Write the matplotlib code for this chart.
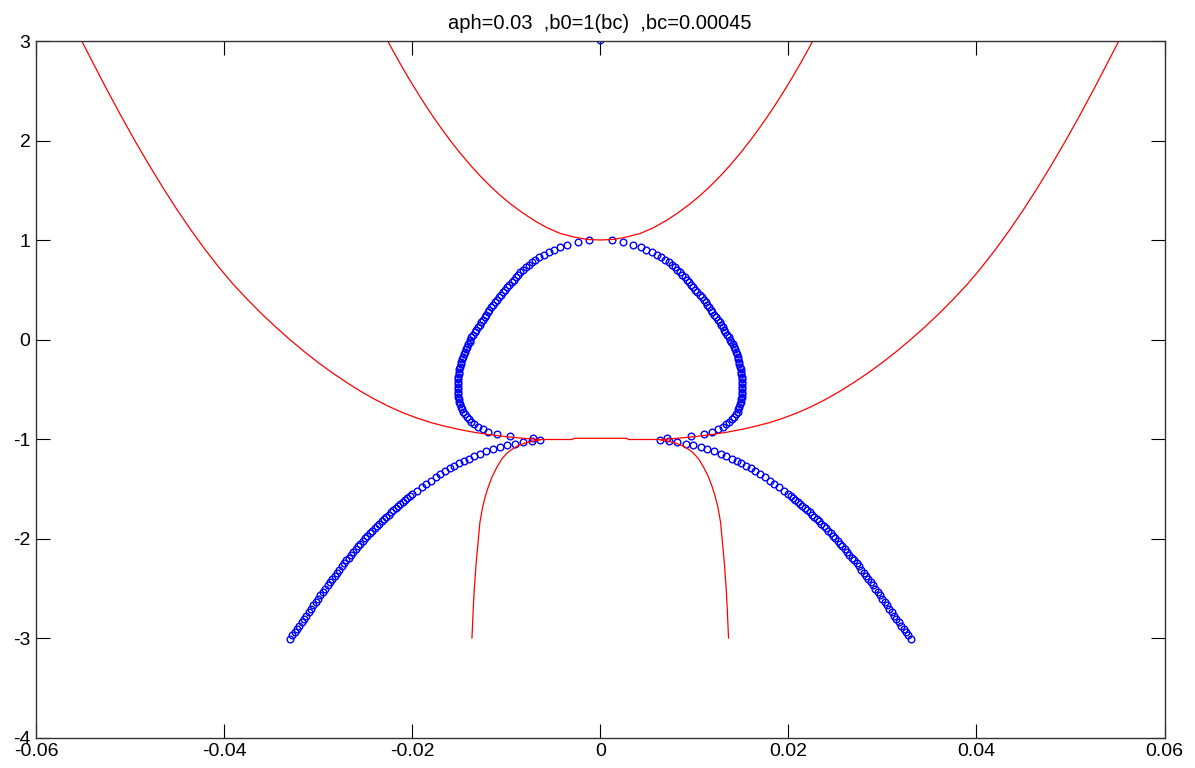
"""Branch plot: aph=0.03, b0=1(bc), bc=0.00045."""

import matplotlib
matplotlib.use("Agg")
import matplotlib.pyplot as plt

# red curves
wide_x = [-0.0553, -0.0540, -0.0525, -0.0510, -0.0495, -0.0480, -0.0465, -0.0450, -0.0435,
          -0.0420, -0.0405, -0.0390, -0.0375, -0.0360, -0.0345, -0.0330, -0.0315, -0.0300,
          -0.0285, -0.0270, -0.0255, -0.0240, -0.0225, -0.0210, -0.0195, -0.0180, -0.0165,
          -0.0150, -0.0135, -0.0120, -0.0105, -0.0090, -0.0075, -0.0064, -0.0030, -0.0028,
          0.0028, 0.0030, 0.0064, 0.0075, 0.0090, 0.0105, 0.0120, 0.0135, 0.0150,
          0.0165, 0.0180, 0.0195, 0.0210, 0.0225, 0.0240, 0.0255, 0.0270, 0.0285,
          0.0300, 0.0315, 0.0330, 0.0345, 0.0360, 0.0375, 0.0390, 0.0405, 0.0420,
          0.0435, 0.0450, 0.0465, 0.0480, 0.0495, 0.0510, 0.0525, 0.0540, 0.0553]
wide_y = [3.030, 2.792, 2.519, 2.255, 2.001, 1.758, 1.526, 1.305, 1.097,
          0.902, 0.720, 0.552, 0.401, 0.258, 0.125, -0.001, -0.120, -0.231,
          -0.334, -0.430, -0.519, -0.600, -0.672, -0.735, -0.789, -0.835, -0.872,
          -0.904, -0.931, -0.953, -0.971, -0.986, -0.998, -1.005, -1.005, -0.993,
          -0.993, -1.005, -1.005, -0.998, -0.986, -0.971, -0.953, -0.931, -0.904,
          -0.872, -0.835, -0.789, -0.735, -0.672, -0.600, -0.519, -0.430, -0.334,
          -0.231, -0.120, -0.001, 0.125, 0.258, 0.401, 0.552, 0.720, 0.902,
          1.097, 1.305, 1.526, 1.758, 2.001, 2.255, 2.519, 2.792, 3.030]

upper_x = [-0.0229, -0.0221, -0.02125, -0.0204, -0.01948, -0.0186, -0.01771, -0.0168,
           -0.01594, -0.0149, -0.01381, -0.0128, -0.01169, -0.0106, -0.00956, -0.0083,
           -0.00709, -0.0057, -0.00425, -0.0028, -0.00141, 0.0, 0.00141, 0.0028, 0.00425,
           0.0057, 0.00709, 0.0083, 0.00956, 0.0106, 0.01169, 0.0128, 0.01381, 0.0149,
           0.01594, 0.0168, 0.01771, 0.0186, 0.01948, 0.0204, 0.02125, 0.0221, 0.0229]
upper_y = [3.053, 2.913, 2.769, 2.631, 2.488, 2.357, 2.231, 2.109,
           1.999, 1.874, 1.752, 1.647, 1.541, 1.446, 1.364, 1.276,
           1.200, 1.125, 1.066, 1.030, 1.006, 1.000, 1.006, 1.030, 1.066,
           1.125, 1.200, 1.276, 1.364, 1.446, 1.541, 1.647, 1.752, 1.874,
           1.999, 2.109, 2.231, 2.357, 2.488, 2.631, 2.769, 2.913, 3.053]

inner_left_x = [-0.01364, -0.0135, -0.0134, -0.0132, -0.0130, -0.0128, -0.0125, -0.0122,
                -0.0119, -0.0115, -0.0110, -0.0105, -0.0100, -0.0095, -0.0088, -0.0080,
                -0.0072, -0.0064]
inner_left_y = [-3.000, -2.700, -2.520, -2.250, -2.050, -1.840, -1.680, -1.570,
                -1.480, -1.380, -1.285, -1.205, -1.150, -1.110, -1.070, -1.040,
                -1.022, -1.010]
inner_right_x = [0.0064, 0.0072, 0.0080, 0.0088, 0.0095, 0.0100, 0.0105, 0.0110, 0.0115,
                 0.0119, 0.0122, 0.0125, 0.0128, 0.0130, 0.0132, 0.0134, 0.0135, 0.01364]
inner_right_y = [-1.010, -1.022, -1.040, -1.070, -1.110, -1.150, -1.205, -1.285, -1.380,
                 -1.480, -1.570, -1.680, -1.840, -2.050, -2.250, -2.520, -2.700, -3.000]

# blue circles: lower branches (from the junction near y=-1 down to y=-3)
lower_y = [-1.010, -1.020, -1.033, -1.048, -1.064, -1.083, -1.102, -1.124, -1.149, -1.172, -1.197,
           -1.220, -1.244, -1.270, -1.296, -1.325, -1.354, -1.385, -1.417, -1.451, -1.485, -1.521,
           -1.557, -1.576, -1.595, -1.615, -1.634, -1.654, -1.675, -1.695, -1.716, -1.738, -1.760,
           -1.782, -1.804, -1.827, -1.851, -1.874, -1.898, -1.923, -1.948, -1.973, -1.998, -2.025,
           -2.052, -2.078, -2.105, -2.134, -2.163, -2.191, -2.220, -2.251, -2.281, -2.312, -2.342,
           -2.375, -2.407, -2.440, -2.472, -2.505, -2.539, -2.572, -2.605, -2.639, -2.673, -2.706,
           -2.740, -2.774, -2.808, -2.841, -2.875, -2.908, -2.940, -2.973, -3.005]
lower_x_left = [-0.0064, -0.0073, -0.0082, -0.0091, -0.0099, -0.0107, -0.0114, -0.0121, -0.0128,
                -0.0134, -0.0140, -0.0145, -0.0150, -0.0155, -0.0160, -0.0165, -0.0170, -0.0175,
                -0.0180, -0.0185, -0.0190, -0.0195, -0.02000, -0.02025, -0.02050, -0.02075,
                -0.02100, -0.02125, -0.02150, -0.02175, -0.02200, -0.02225, -0.02250, -0.02275,
                -0.02300, -0.02325, -0.02350, -0.02375, -0.02400, -0.02425, -0.02450, -0.02475,
                -0.02500, -0.02525, -0.02550, -0.02575, -0.02600, -0.02625, -0.02650, -0.02675,
                -0.02700, -0.02725, -0.02750, -0.02775, -0.02800, -0.02825, -0.02850, -0.02875,
                -0.02900, -0.02925, -0.02950, -0.02975, -0.03000, -0.03025, -0.03050, -0.03075,
                -0.03100, -0.03125, -0.03150, -0.03175, -0.03200, -0.03225, -0.03250, -0.03275,
                -0.03300]
lower_x_right = [0.0064, 0.0073, 0.0082, 0.0091, 0.0099, 0.0107, 0.0114, 0.0121, 0.0128,
                 0.0134, 0.0140, 0.0145, 0.0150, 0.0155, 0.0160, 0.0165, 0.0170, 0.0175,
                 0.0180, 0.0185, 0.0190, 0.0195, 0.02000, 0.02025, 0.02050, 0.02075,
                 0.02100, 0.02125, 0.02150, 0.02175, 0.02200, 0.02225, 0.02250, 0.02275,
                 0.02300, 0.02325, 0.02350, 0.02375, 0.02400, 0.02425, 0.02450, 0.02475,
                 0.02500, 0.02525, 0.02550, 0.02575, 0.02600, 0.02625, 0.02650, 0.02675,
                 0.02700, 0.02725, 0.02750, 0.02775, 0.02800, 0.02825, 0.02850, 0.02875,
                 0.02900, 0.02925, 0.02950, 0.02975, 0.03000, 0.03025, 0.03050, 0.03075,
                 0.03100, 0.03125, 0.03150, 0.03175, 0.03200, 0.03225, 0.03250, 0.03275,
                 0.03300]

# blue circles: closed loop between y=-1 and y=1
loop_y = [1.000, 0.975, 0.950, 0.925, 0.900, 0.875, 0.850, 0.825, 0.800, 0.775,
          0.750, 0.725, 0.700, 0.675, 0.650, 0.625, 0.600, 0.575, 0.550, 0.525,
          0.500, 0.475, 0.450, 0.425, 0.400, 0.375, 0.350, 0.325, 0.300, 0.275,
          0.250, 0.225, 0.200, 0.175, 0.150, 0.125, 0.100, 0.075, 0.050, 0.025,
          0.000, -0.025, -0.050, -0.075, -0.100, -0.125, -0.150, -0.175, -0.200, -0.225,
          -0.250, -0.275, -0.300, -0.325, -0.350, -0.375, -0.400, -0.425, -0.450, -0.475,
          -0.500, -0.525, -0.550, -0.575, -0.600, -0.625, -0.650, -0.675, -0.700, -0.725,
          -0.750, -0.775, -0.800, -0.825, -0.850, -0.875, -0.900, -0.925, -0.950,
          -0.965, -0.994]
loop_x_right = [0.0012, 0.0024, 0.0035, 0.0043, 0.0049, 0.0055, 0.0060, 0.0065, 0.0069, 0.0073,
                0.0076, 0.0079, 0.0082, 0.0085, 0.0087, 0.0090, 0.0092, 0.0094, 0.0097, 0.0099,
                0.0101, 0.0103, 0.0106, 0.0108, 0.0110, 0.0112, 0.0114, 0.0116, 0.0118, 0.0119,
                0.0121, 0.0123, 0.0125, 0.0127, 0.0128, 0.0130, 0.0132, 0.0133, 0.0135, 0.0137,
                0.0138, 0.0139, 0.0141, 0.0142, 0.0143, 0.0144, 0.0145, 0.0146, 0.0147, 0.0148,
                0.0148, 0.0149, 0.0150, 0.0150, 0.0150, 0.0151, 0.0151, 0.0151, 0.0151, 0.0151,
                0.0151, 0.0151, 0.0151, 0.0151, 0.0150, 0.0150, 0.0149, 0.0148, 0.0147, 0.0146,
                0.0144, 0.0142, 0.0140, 0.0137, 0.0134, 0.0130, 0.0125, 0.0119, 0.0110,
                0.0096, 0.0071]
loop_x_left = [-0.0012, -0.0024, -0.0035, -0.0043, -0.0049, -0.0055, -0.0060, -0.0065, -0.0069, -0.0073,
               -0.0076, -0.0079, -0.0082, -0.0085, -0.0087, -0.0090, -0.0092, -0.0094, -0.0097, -0.0099,
               -0.0101, -0.0103, -0.0106, -0.0108, -0.0110, -0.0112, -0.0114, -0.0116, -0.0118, -0.0119,
               -0.0121, -0.0123, -0.0125, -0.0127, -0.0128, -0.0130, -0.0132, -0.0133, -0.0135, -0.0137,
               -0.0138, -0.0139, -0.0141, -0.0142, -0.0143, -0.0144, -0.0145, -0.0146, -0.0147, -0.0148,
               -0.0148, -0.0149, -0.0150, -0.0150, -0.0150, -0.0151, -0.0151, -0.0151, -0.0151, -0.0151,
               -0.0151, -0.0151, -0.0151, -0.0151, -0.0150, -0.0150, -0.0149, -0.0148, -0.0147, -0.0146,
               -0.0144, -0.0142, -0.0140, -0.0137, -0.0134, -0.0130, -0.0125, -0.0119, -0.0110,
               -0.0096, -0.0071]

# one point just above the top edge, clipped by the axes
top_x = [0.0]
top_y = [3.012]

x_ticks = [-0.06, -0.04, -0.02, 0, 0.02, 0.04, 0.06]
x_tick_labels = ["-0.06", "-0.04", "-0.02", "0", "0.02", "0.04", "0.06"]
y_ticks = [-4, -3, -2, -1, 0, 1, 2, 3]

plt.rcParams["font.family"] = ["Liberation Sans", "DejaVu Sans"]
plt.rcParams["axes.unicode_minus"] = False

fig = plt.figure(figsize=(11.95, 7.68), dpi=100)
ax = fig.add_axes([0.0301, 0.0397, 0.9444, 0.9069])

marker_style = dict(linestyle="none", marker="o", markersize=4.8, markerfacecolor="none",
                    markeredgecolor="#0000ff", markeredgewidth=1.0)
ax.plot(loop_x_left, loop_y, **marker_style)
ax.plot(loop_x_right, loop_y, **marker_style)
ax.plot(lower_x_left, lower_y, **marker_style)
ax.plot(lower_x_right, lower_y, **marker_style)
ax.plot(top_x, top_y, **marker_style)

red = "#ff0000"
ax.plot(wide_x, wide_y, color=red, linewidth=0.9)
ax.plot(upper_x, upper_y, color=red, linewidth=0.9)
ax.plot(inner_left_x, inner_left_y, color=red, linewidth=0.9)
ax.plot(inner_right_x, inner_right_y, color=red, linewidth=0.9)

ax.set_xlim(-0.06, 0.06)
ax.set_ylim(-4, 3)
ax.set_xticks(x_ticks)
ax.set_xticklabels(x_tick_labels)
ax.set_yticks(y_ticks)
ax.tick_params(direction="in", length=10, width=0.8, top=True, right=True,
               labelsize=14, pad=4)
for spine in ax.spines.values():
    spine.set_color("#333333")
    spine.set_linewidth(1.0)

ax.set_title("aph=0.03  ,b0=1(bc)  ,bc=0.00045", fontsize=14.5, pad=9)

fig.savefig("out.png", dpi=100)
plt.close(fig)
